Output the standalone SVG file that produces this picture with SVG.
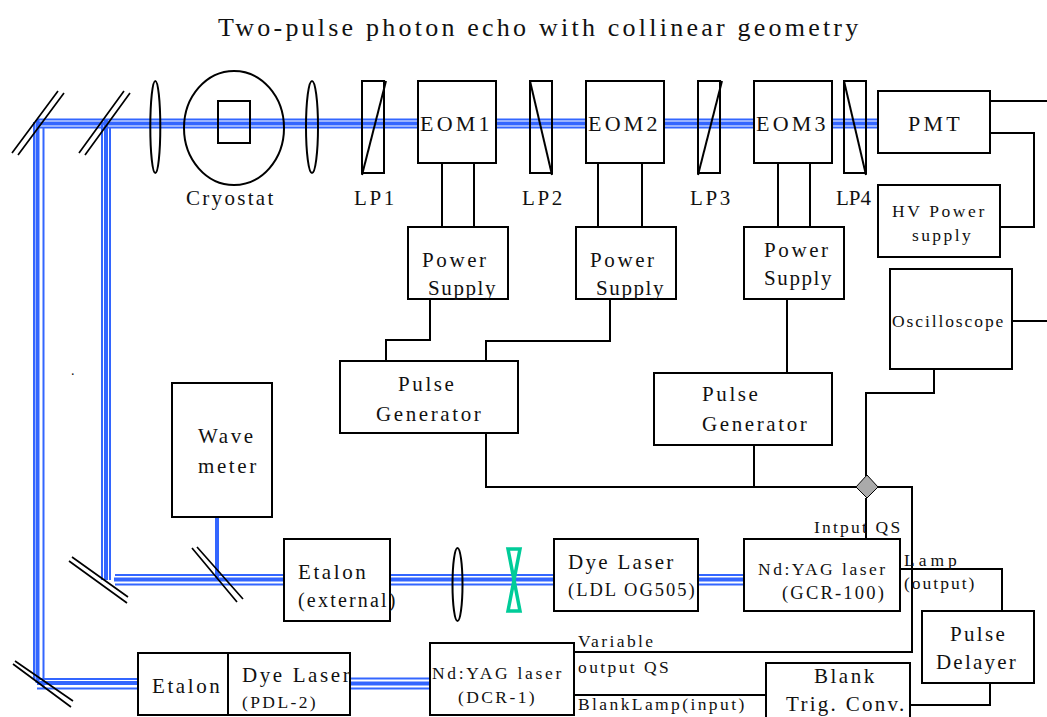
<svg xmlns="http://www.w3.org/2000/svg" width="1047" height="717" viewBox="0 0 1047 717">
<style>
text{font-family:"Liberation Serif","Times New Roman",serif;fill:#111;font-size:21px;letter-spacing:2.600px}
.b{fill:#fff;stroke:#000;stroke-width:2}
.n{fill:none;stroke:#000;stroke-width:2}
.t{fill:none;stroke:#000;stroke-width:1.7}
.bt{fill:none;stroke:#3366ff;stroke-width:2}
.bc{fill:none;stroke:#3366ff;stroke-width:4}
.big{font-size:22px;letter-spacing:3.200px}
.s{font-size:17.500px;letter-spacing:2.400px}
.sup{letter-spacing:1.600px}
</style>
<rect width="1047" height="717" fill="#fff"/>
<g id="beams">
<path class="bt" d="M37 119.500H418M37 127.500H418M496 119.500H586M496 127.500H586M664 119.500H754M664 127.500H754M832 119.500H878M832 127.500H878"/>
<path class="bc" d="M37 123.500H418M496 123.500H586M664 123.500H754M832 123.500H878"/>
<path class="bt" d="M34 122V680M43.500 127V689M102 122V580M110 127V580"/>
<path class="bc" d="M37.500 120V683M106 120V580"/>
<path class="bt" d="M115 575H284M115 584.500H284M390 575H554M390 584.500H554M698 575H744M698 584.500H744"/>
<path class="bc" d="M114 579.500H285M390 579.500H555M698 579.500H745"/>
<path class="bt" d="M37 679H138M37 688.500H138M350 678.500H430M350 688.500H430"/>
<path class="bc" d="M37 683H139M350 683.500H431"/>
<path class="bc" d="M217 517V579"/>
</g>
<g id="connectors">
<path class="n" d="M442 163V227M474 163V227M598 163V227M642 163V227M778 163V227M810 163V227"/>
<path class="n" d="M430 299V340H386V361M610 299V341H486V361M787 299V373"/>
<path class="n" d="M486 433V487H856M754 445V487M934 369V393H866V476M866 498V539"/>
<path class="n" d="M877 487H912V652H575M575 695H766M900 569H1002V611M990 683V705H910"/>
<path class="n" d="M990 101H1047M990 133H1034V227H1000M1012 321H1047"/>
</g>
<g id="mirrors">
<path class="t" d="M12 153L58 91M18 155L64 93M79 153L124 91M85 155L130 93M69 561L127 603M72 557L128 597M192 548L237 602M197 547L243 599M13 664L71 707M15 661L73 701"/>
</g>
<g id="lens1"><ellipse class="n" cx="155.300" cy="127" rx="5" ry="46"/></g>
<g id="cryostat"><ellipse class="n" cx="234" cy="128" rx="50" ry="57"/><rect class="n" x="218" y="101" width="32" height="42"/><text x="186" y="205" style="letter-spacing:2.300px">Cryostat</text></g>
<g id="lens2"><ellipse class="n" cx="312" cy="127" rx="6" ry="46"/></g>
<g id="lp1"><rect class="n" x="362" y="81" width="22" height="92"/><path class="n" d="M362 175L386 81"/><text x="354" y="205">LP1</text></g>
<g id="lp2"><rect class="n" x="530" y="81" width="22" height="92"/><path class="n" d="M530 81L552 175"/><text x="522" y="205">LP2</text></g>
<g id="lp3"><rect class="n" x="698" y="81" width="22" height="92"/><path class="n" d="M698 175L722 81"/><text x="690" y="205">LP3</text></g>
<g id="lp4"><rect class="n" x="844" y="81" width="22" height="92"/><path class="n" d="M844 81L866 175"/><text x="836" y="205" style="letter-spacing:0">LP4</text></g>
<g id="eom1"><rect class="b" x="418" y="81" width="78" height="82"/><text class="big" x="420" y="131">EOM1</text></g>
<g id="eom2"><rect class="b" x="586" y="81" width="78" height="82"/><text class="big" x="588" y="131">EOM2</text></g>
<g id="eom3"><rect class="b" x="754" y="81" width="78" height="82"/><text class="big" x="756" y="131">EOM3</text></g>
<g id="pmt"><rect class="b" x="878" y="91" width="112" height="62"/><text class="big" x="908" y="131">PMT</text></g>
<g id="hv"><rect class="b" x="878" y="185" width="122" height="72"/><text class="s" x="892" y="217" style="letter-spacing:2.600px">HV Power</text><text class="s" x="912" y="241">supply</text></g>
<g id="scope"><rect class="b" x="890" y="269" width="122" height="100"/><text class="s" x="892" y="327" style="letter-spacing:1.900px">Oscilloscope</text></g>
<g id="ps1"><rect class="b" x="408" y="227" width="100" height="72"/><text x="422" y="267">Power</text><text class="sup" x="428" y="295">Supply</text></g>
<g id="ps2"><rect class="b" x="576" y="227" width="100" height="72"/><text x="590" y="267">Power</text><text class="sup" x="596" y="295">Supply</text></g>
<g id="ps3"><rect class="b" x="744" y="227" width="100" height="72"/><text x="764" y="257">Power</text><text class="sup" x="764" y="285">Supply</text></g>
<g id="pg1"><rect class="b" x="340" y="361" width="178" height="72"/><text x="398" y="391">Pulse</text><text x="376" y="421">Generator</text></g>
<g id="pg2"><rect class="b" x="654" y="373" width="178" height="72"/><text x="702" y="401">Pulse</text><text x="702" y="431">Generator</text></g>
<g id="wavemeter"><rect class="b" x="172" y="383" width="100" height="134"/><text x="198" y="443">Wave</text><text x="198" y="473">meter</text></g>
<g id="etalon-ext"><rect class="b" x="284" y="539" width="106" height="82"/><text x="298" y="579">Etalon</text><text x="298" y="607" style="font-size:20px;letter-spacing:2.200px">(external)</text></g>
<g id="lens3"><ellipse class="n" cx="457.500" cy="584.500" rx="5" ry="36.500"/></g>
<g id="cell"><path fill="none" stroke="#00cc99" stroke-width="3.500" d="M508 549H520L508 611H520Z"/></g>
<g id="dye-ldl"><rect class="b" x="554" y="539" width="144" height="72"/><text x="568" y="569" style="letter-spacing:2.300px">Dye Laser</text><text x="568" y="596" style="font-size:18.500px;letter-spacing:2px">(LDL OG505)</text></g>
<g id="yag-gcr"><rect class="b" x="744" y="539" width="156" height="72"/><text class="s" x="758" y="575" style="letter-spacing:2.500px">Nd:YAG laser</text><text x="782" y="599" style="font-size:18.500px;letter-spacing:2.200px">(GCR-100)</text></g>
<g id="junction"><path fill="#aaa" stroke="#000" d="M867 475L878 487L867 498L856 487Z"/></g>
<g id="delayer"><rect class="b" x="922" y="611" width="112" height="72"/><text x="950" y="641" style="letter-spacing:2.300px">Pulse</text><text x="936" y="669" style="letter-spacing:2.200px">Delayer</text></g>
<g id="blank"><rect class="b" x="766" y="663" width="144" height="60"/><text x="814" y="683" style="letter-spacing:2.500px">Blank</text><text x="786" y="711" style="letter-spacing:2.300px">Trig. Conv.</text></g>
<g id="yag-dcr"><rect class="b" x="430" y="643" width="144" height="72"/><text class="s" x="432" y="679" style="letter-spacing:2.700px">Nd:YAG laser</text><text class="s" x="458" y="703">(DCR-1)</text></g>
<g id="etalon-dye"><rect class="b" x="138" y="653" width="212" height="62"/><path class="n" d="M228 653V715"/><text x="152" y="693">Etalon</text><text x="242" y="682">Dye Laser</text><text class="s" x="242" y="708">(PDL-2)</text></g>
<g id="labels">
<text x="218" y="36" style="font-size:26px;letter-spacing:3.220px">Two-pulse photon echo with collinear geometry</text>
<text class="s" x="814" y="533" style="letter-spacing:2.200px">Intput QS</text>
<text class="s" x="904" y="566" style="letter-spacing:4px">Lamp</text>
<text class="s" x="904" y="589" style="letter-spacing:2px">(output)</text>
<text class="s" x="578" y="647">Variable</text>
<text class="s" x="578" y="673">output QS</text>
<text class="s" x="578" y="710">BlankLamp(input)</text>
<text x="71" y="375" style="font-size:14px">.</text>
</g>
</svg>
